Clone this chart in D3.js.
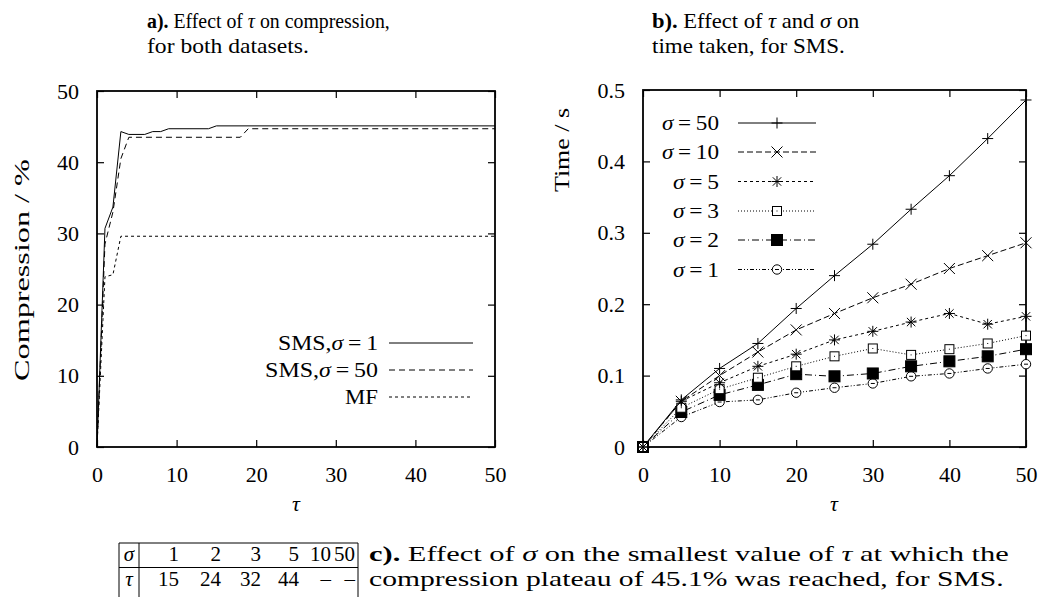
<!DOCTYPE html>
<html><head><meta charset="utf-8">
<script src="https://cdn.jsdelivr.net/npm/d3@7"></script>
<style>
html,body{margin:0;padding:0;background:#fff;}
svg{display:block;}
text{font-family:"Liberation Serif","Times New Roman",serif;fill:#000;}
</style></head>
<body>
<svg id="chart" width="1043" height="597"></svg>
<script>
// ---------- DATA ----------
// Panel a: compression (%) vs tau
const tauSMS1 = [0, 1, 2, 3, 4, 6, 7, 8, 9, 14, 15, 50];
const compSMS1 = [0, 30.7, 33.7, 44.3, 43.9, 43.9, 44.3, 44.3, 44.7, 44.7, 45.1, 45.1];
const tauSMS50 = [0, 1, 2, 3, 4, 18, 19, 50];
const compSMS50 = [0, 28.5, 33, 40.5, 43.5, 43.5, 44.7, 44.7];
const tauMF = [0, 1, 2, 3, 50];
const compMF = [0, 23.9, 24.2, 29.6, 29.6];
const seriesA = ["SMS,σ=1", "SMS,σ=50", "MF"];

// Panel b: time (s) vs tau, for each sigma
const tauB = [0, 5, 10, 15, 20, 25, 30, 35, 40, 45, 50];
const time50 = [0, 0.066, 0.110, 0.145, 0.194, 0.240, 0.284, 0.333, 0.380, 0.432, 0.486];
const time10 = [0, 0.064, 0.100, 0.133, 0.164, 0.187, 0.209, 0.228, 0.250, 0.268, 0.286];
const time5  = [0, 0.064, 0.090, 0.113, 0.130, 0.150, 0.162, 0.175, 0.187, 0.172, 0.183];
const time3  = [0, 0.055, 0.081, 0.097, 0.113, 0.127, 0.138, 0.129, 0.137, 0.145, 0.156];
const time2  = [0, 0.049, 0.073, 0.087, 0.102, 0.099, 0.103, 0.113, 0.120, 0.127, 0.137];
const time1  = [0, 0.042, 0.063, 0.066, 0.076, 0.083, 0.089, 0.099, 0.103, 0.110, 0.116];
const sigmaLabels = ["50", "10", "5", "3", "2", "1"];

// Ticks
const ticksA_x = [0, 10, 20, 30, 40, 50];
const ticksA_y = [0, 10, 20, 30, 40, 50];
const ticksB_y = [0, 0.1, 0.2, 0.3, 0.4, 0.5];

// Table c
const tableSigma = ["1", "2", "3", "5", "10", "50"];
const tableTau = ["15", "24", "32", "44", "–", "–"];

// ---------- DRAW ----------
const svg = d3.select("#chart");
const FS = 21;

// text helper: parts = [[str, style]], optional target width (horizontal fit)
function label(x, y, parts, opt = {}) {
  const g = svg.append("g").attr("transform", `translate(${x},${y}) rotate(${opt.rotate || 0})`);
  const t = g.append("text").attr("text-anchor", opt.anchor || "start")
    .attr("font-size", opt.size || FS);
  parts.forEach(p => {
    const ts = t.append("tspan").text(p[0]);
    if (p[1] === "b") ts.attr("font-weight", "bold");
    if (p[1] === "i") ts.attr("font-style", "italic");
  });
  if (opt.target) {
    const w = t.node().getBBox().width;
    t.attr("transform", `scale(${opt.target / w},1)`);
  }
  return t;
}

function axesFrame(x, y, xt, yt, yfmt) {
  const g = svg.append("g");
  const [x0, x1] = x.range(), [y0, y1] = y.range();
  g.append("g").attr("transform", `translate(0,${y0})`)
    .call(d3.axisBottom(x).tickValues(xt).tickSize(-7).tickPadding(19).tickFormat(d3.format("d")));
  g.append("g").attr("transform", `translate(0,${y1})`)
    .call(d3.axisTop(x).tickValues(xt).tickSize(-7).tickFormat(""));
  g.append("g").attr("transform", `translate(${x0},0)`)
    .call(d3.axisLeft(y).tickValues(yt).tickSize(-7).tickPadding(18).tickFormat(yfmt));
  g.append("g").attr("transform", `translate(${x1},0)`)
    .call(d3.axisRight(y).tickValues(yt).tickSize(-7).tickFormat(""));
  g.selectAll(".domain").remove();
  g.selectAll(".tick line").attr("stroke", "#000").attr("stroke-width", 1.2);
  g.selectAll(".tick text").attr("font-size", 22).attr("font-family", "Liberation Serif");
  g.append("rect").attr("x", x0).attr("y", y1).attr("width", x1 - x0).attr("height", y0 - y1)
    .attr("fill", "none").attr("stroke", "#000").attr("stroke-width", 1.8);
  return g;
}

// Panel a
const xA = d3.scaleLinear().domain([0, 50]).range([97, 495]);
const yA = d3.scaleLinear().domain([0, 50]).range([447, 91]);
axesFrame(xA, yA, ticksA_x, ticksA_y, d3.format("d"));

const lineA = d3.line().x(d => xA(d[0])).y(d => yA(d[1]));
const dataA = [
  {pts: d3.zip(tauSMS1, compSMS1), dash: null},
  {pts: d3.zip(tauSMS50, compSMS50), dash: "6,4"},
  {pts: d3.zip(tauMF, compMF), dash: "3,3"}
];
dataA.forEach(s => {
  svg.append("path").attr("d", lineA(s.pts)).attr("fill", "none")
    .attr("stroke", "#000").attr("stroke-width", 1)
    .attr("stroke-dasharray", s.dash);
});

// legend a
const legA_y = [343, 370, 397];
const legA_w = [100, 113, 33];
seriesA.forEach((name, i) => {
  let parts;
  if (name.includes("σ")) {
    const [pre, post] = name.split("σ");
    parts = [[pre], ["σ", "i"], [post.replace("=", "\u2009=\u2009")]];
  } else parts = [[name]];
  label(378, legA_y[i] + 7, parts, {anchor: "end", target: legA_w[i]});
  svg.append("line").attr("x1", 389).attr("x2", 473).attr("y1", legA_y[i]).attr("y2", legA_y[i])
    .attr("stroke", "#000").attr("stroke-width", 1).attr("stroke-dasharray", dataA[i].dash);
});

// axis labels a
label(29, 270, [["Compression / %"]], {anchor: "middle", rotate: -90, target: 222});
label(296, 511, [["τ", "i"]], {anchor: "middle", size: 22});

// Panel b
const xB = d3.scaleLinear().domain([0, 50]).range([643, 1026]);
const yB = d3.scaleLinear().domain([0, 0.5]).range([447, 90]);
axesFrame(xB, yB, ticksA_x, ticksB_y, d => d === 0 ? "0" : d3.format(".1f")(d));

const lineB = d3.line().x(d => xB(d[0])).y(d => yB(d[1]));
const seriesB = [
  {vals: time50, dash: null, m: "plus"},
  {vals: time10, dash: "6,3", m: "cross"},
  {vals: time5, dash: "3,3", m: "star"},
  {vals: time3, dash: "1,2", m: "box"},
  {vals: time2, dash: "7,3,1,3", m: "fbox"},
  {vals: time1, dash: "4,2,1,2,1,2", m: "circle"}
];

function marker(type, cx, cy) {
  const g = svg.append("g").attr("transform", `translate(${cx},${cy})`)
    .attr("stroke", "#000").attr("stroke-width", 1).attr("fill", "none");
  const s = 5.5;
  if (type === "plus" || type === "star") {
    g.append("path").attr("d", `M${-s},0H${s}M0,${-s}V${s}`);
  }
  if (type === "cross" || type === "star") {
    const c = type === "star" ? 4.2 : 5.5;
    g.append("path").attr("d", `M${-c},${-c}L${c},${c}M${-c},${c}L${c},${-c}`);
  }
  if (type === "box") {
    g.append("rect").attr("x", -4.5).attr("y", -4.5).attr("width", 9).attr("height", 9).attr("fill", "#fff");
    g.append("rect").attr("x", -0.5).attr("y", -0.5).attr("width", 1).attr("height", 1).attr("fill", "#000").attr("stroke", "none");
  }
  if (type === "fbox") {
    g.append("rect").attr("x", -5.5).attr("y", -5.5).attr("width", 11).attr("height", 11).attr("fill", "#000");
  }
  if (type === "circle") {
    g.append("circle").attr("r", 4.7).attr("fill", "#fff");
    g.append("path").attr("d", "M-2,0H2");
  }
}

seriesB.slice().reverse().forEach(s => {
  const pts = d3.zip(tauB, s.vals);
  svg.append("path").attr("d", lineB(pts)).attr("fill", "none")
    .attr("stroke", "#000").attr("stroke-width", 1).attr("stroke-dasharray", s.dash);
});
seriesB.slice().reverse().forEach(s => {
  d3.zip(tauB, s.vals).forEach(p => marker(s.m, xB(p[0]), yB(p[1])));
});

// legend b
const legB_y = [123, 152, 181.5, 211, 240, 269.5];
sigmaLabels.forEach((lab, i) => {
  label(719, legB_y[i] + 7, [["σ", "i"], ["\u2009=\u2009" + lab]],
        {anchor: "end", target: lab.length > 1 ? 57 : 46});
  svg.append("line").attr("x1", 738).attr("x2", 816).attr("y1", legB_y[i]).attr("y2", legB_y[i])
    .attr("stroke", "#000").attr("stroke-width", 1).attr("stroke-dasharray", seriesB[i].dash);
  marker(seriesB[i].m, 777, legB_y[i]);
});

// axis labels b
label(569, 150, [["Time / s"]], {anchor: "middle", rotate: -90, target: 84});
label(834, 511, [["τ", "i"]], {anchor: "middle", size: 22});

// Titles
label(147, 28, [["a).", "b"], [" Effect of "], ["τ", "i"], [" on compression,"]], {target: 243});
label(147, 53, [["for both datasets."]], {target: 162});
label(652, 28, [["b).", "b"], [" Effect of "], ["τ", "i"], [" and "], ["σ", "i"], [" on"]], {target: 208});
label(652, 53, [["time taken, for SMS."]], {target: 193});

// Table c
const colRight = [179, 221, 261, 299, 331, 355];
const tg = svg.append("g").attr("stroke", "#000").attr("stroke-width", 1);
tg.append("line").attr("x1", 119).attr("x2", 358).attr("y1", 543).attr("y2", 543);
tg.append("line").attr("x1", 119).attr("x2", 358).attr("y1", 567.5).attr("y2", 567.5);
[119, 139, 358].forEach(x => tg.append("line").attr("x1", x).attr("x2", x).attr("y1", 543).attr("y2", 597));
label(129, 561, [["σ", "i"]], {anchor: "middle"});
label(129, 586, [["τ", "i"]], {anchor: "middle"});
tableSigma.forEach((v, i) => label(colRight[i], 561, [[v]], {anchor: "end"}));
tableTau.forEach((v, i) => label(colRight[i], 586, [[v]], {anchor: "end"}));

label(369, 561, [["c).", "b"], [" Effect of "], ["σ", "i"], [" on the smallest value of "], ["τ", "i"], [" at which the"]], {target: 640});
label(369, 586, [["compression plateau of 45.1% was reached, for SMS."]], {target: 635});
</script>
</body></html>
